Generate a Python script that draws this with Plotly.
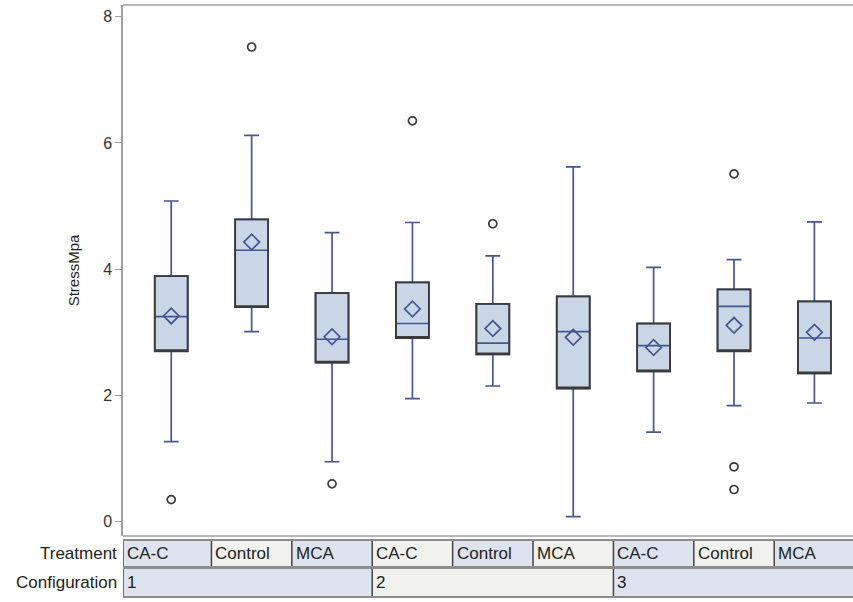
import plotly.graph_objects as go

# ---- data ----
treatments = ["CA-C", "Control", "MCA", "CA-C", "Control", "MCA", "CA-C", "Control", "MCA"]
configurations = ["1", "2", "3"]
lower_whisker = [1.27, 3.01, 0.95, 1.95, 2.15, 0.08, 1.42, 1.84, 1.88]
q1 = [2.70, 3.40, 2.52, 2.91, 2.65, 2.11, 2.38, 2.70, 2.35]
median = [3.25, 4.30, 2.89, 3.14, 2.83, 3.01, 2.79, 3.41, 2.91]
q3 = [3.89, 4.79, 3.62, 3.79, 3.45, 3.57, 3.14, 3.68, 3.49]
upper_whisker = [5.08, 6.12, 4.58, 4.74, 4.21, 5.62, 4.03, 4.15, 4.75]
means = [3.26, 4.43, 2.93, 3.37, 3.06, 2.92, 2.76, 3.11, 3.00]
outlier_group = [0, 1, 2, 3, 4, 7, 7, 7]
outlier_value = [0.35, 7.52, 0.60, 6.35, 4.72, 5.51, 0.87, 0.51]
y_ticks = [0, 2, 4, 6, 8]

# ---- styles ----
BLUE = "#445694"
FILL = "#cad5e5"
DARK = "#3a3a3a"
CELL_A = "#dde3ef"
CELL_B = "#f1f1ed"
FONT = "Liberation Sans, Arial, sans-serif"
XMIN, XMAX = -0.6, 8.48
BOXW = 0.41

xs = list(range(len(treatments)))
fig = go.Figure()

# box with whiskers and median (blue)
fig.add_trace(go.Box(
    x=xs, q1=q1, median=median, q3=q3,
    lowerfence=lower_whisker, upperfence=upper_whisker,
    width=BOXW, whiskerwidth=0.45,
    fillcolor=FILL, line=dict(color=BLUE, width=1.7),
    boxpoints=False, hoverinfo="skip", showlegend=False))
# dark box outline on top
fig.add_trace(go.Box(
    x=xs, q1=q1, median=q1, q3=q3,
    lowerfence=q1, upperfence=q3,
    width=BOXW, whiskerwidth=0.0,
    fillcolor="rgba(0,0,0,0)", line=dict(color=DARK, width=1.8),
    boxpoints=False, hoverinfo="skip", showlegend=False))
# means
fig.add_trace(go.Scatter(
    x=xs, y=means, mode="markers",
    marker=dict(symbol="diamond-open", size=12, color=BLUE, line=dict(width=1.7)),
    showlegend=False, hoverinfo="skip"))
# outliers
fig.add_trace(go.Scatter(
    x=outlier_group, y=outlier_value, mode="markers",
    marker=dict(symbol="circle-open", size=8, color=DARK, line=dict(width=1.7)),
    showlegend=False, hoverinfo="skip"))

shapes = []
annotations = []
# frame lines
shapes.append(dict(type="line", xref="paper", yref="paper", x0=0, x1=1, y0=1, y1=1,
                   line=dict(color="#a0a0a0", width=1.5)))
shapes.append(dict(type="line", xref="paper", yref="paper", x0=0, x1=1, y0=0, y1=0,
                   line=dict(color="#a0a0a0", width=1.5)))

# table rows in paper y
R1_TOP, R1_BOT = -0.0075, -0.0584
R2_TOP, R2_BOT = -0.0603, -0.1149


def cell(x0, x1, ytop, ybot, color, text):
    shapes.append(dict(type="rect", xref="x", yref="paper", x0=x0, x1=x1, y0=ybot, y1=ytop,
                       fillcolor=color, line=dict(width=0), layer="below"))
    shapes.append(dict(type="line", xref="x", yref="paper", x0=x0, x1=x0, y0=ybot, y1=ytop,
                       line=dict(color="#444444", width=1.5)))
    annotations.append(dict(x=x0, y=(ytop + ybot) / 2, xref="x", yref="paper",
                            text=text, showarrow=False, xanchor="left", yanchor="middle",
                            xshift=2, font=dict(family=FONT, size=17, color="#222222")))


for i, t in enumerate(treatments):
    x0 = XMIN if i == 0 else i - 0.5
    cell(x0, i + 0.5, R1_TOP, R1_BOT, CELL_A if i % 2 == 0 else CELL_B, t)
for j, c in enumerate(configurations):
    x0 = XMIN if j == 0 else 3 * j - 0.5
    cell(x0, 3 * j + 2.5, R2_TOP, R2_BOT, CELL_A if j % 2 == 0 else CELL_B, c)

for yv in [R1_TOP, R1_BOT, R2_TOP, R2_BOT]:
    shapes.append(dict(type="line", xref="paper", yref="paper", x0=0, x1=1, y0=yv, y1=yv,
                       line=dict(color="#8c8c8c", width=2)))

for label, ytop, ybot in [("Treatment", R1_TOP, R1_BOT), ("Configuration", R2_TOP, R2_BOT)]:
    annotations.append(dict(x=0, y=(ytop + ybot) / 2, xref="paper", yref="paper",
                            text=label, showarrow=False, xanchor="right", yanchor="middle",
                            xshift=-4, font=dict(family=FONT, size=17, color="#222222")))

fig.update_layout(
    width=853, height=602,
    margin=dict(l=123, r=0, t=5, b=66),
    paper_bgcolor="white", plot_bgcolor="white",
    boxmode="overlay",
    font=dict(family=FONT, size=14, color="#333333"),
    shapes=shapes, annotations=annotations,
    xaxis=dict(range=[XMIN, XMAX], showticklabels=False, showgrid=False, zeroline=False,
               ticks="", showline=False),
    yaxis=dict(range=[-0.2265, 8.185], tickvals=y_ticks, showgrid=False, zeroline=False,
               ticks="outside", ticklen=6, tickcolor="#a0a0a0", tickwidth=1,
               showline=True, linecolor="#a0a0a0", linewidth=1.5,
               tickfont=dict(family=FONT, size=16, color="#333333"),
               title=dict(text="StressMpa", standoff=20,
                          font=dict(family=FONT, size=15, color="#222222"))),
)

fig.write_html("out.html")
